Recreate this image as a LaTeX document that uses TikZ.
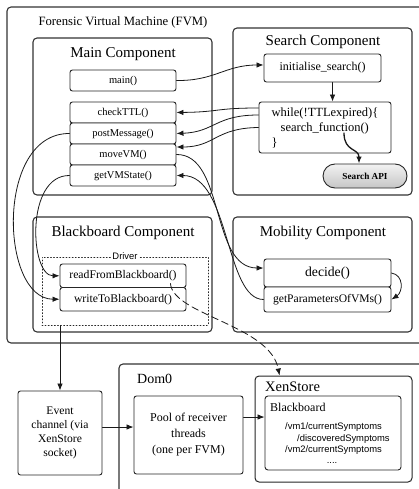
\documentclass[tikz,border=0pt]{standalone}
\usepackage{fontspec}
\setmainfont{Liberation Serif}
\setsansfont{Liberation Sans}
\usetikzlibrary{calc,arrows.meta}

\begin{document}
\begin{tikzpicture}[
  x=1pt, y=-1pt,
  line cap=round, line join=round,
  >={Latex[length=7pt,width=5.5pt]},
  frame/.style={draw=black!80, line width=1.1pt, rounded corners=4pt},
  fbox/.style={draw=black!85, line width=0.9pt, rounded corners=2.5pt, fill=white,
    inner sep=0pt, align=center, font=\fontsize{10.5}{12.5}\selectfont},
  ctitle/.style={anchor=base, inner sep=0pt, font=\fontsize{15}{18}\selectfont},
  link/.style={->, line width=0.8pt, black!90}
]
\useasboundingbox (0,0) rectangle (419,489);
\begin{scope}
\clip (0,0) rectangle (419,489);

% ---------------- Forensic Virtual Machine ----------------
\draw[frame] (7,7) rectangle (440,343);
\node[anchor=base, inner sep=0pt, font=\fontsize{12.7}{15}\selectfont] (fvmtitle) at (123,26)
  {Forensic Virtual Machine (FVM)};

% Main component
\draw[frame] (33,38) rectangle (212,195);
\node[ctitle] (maintitle) at (123,58) {Main Component};
\node[fbox, minimum width=106, minimum height=21] (mainf) at (123,80.5) {main()};
\node[fbox, minimum width=106, minimum height=21] (check) at (123,112.5) {checkTTL()};
\node[fbox, minimum width=106, minimum height=21] (post) at (123,133.5) {postMessage()};
\node[fbox, minimum width=106, minimum height=21] (move) at (123,154.5) {moveVM()};
\node[fbox, minimum width=106, minimum height=21] (getvm) at (123,175.5) {getVMState()};

% Search component
\draw[frame] (233,28) rectangle (412,195);
\node[ctitle] (searchtitle) at (323,46) {Search Component};
\node[fbox, minimum width=117, minimum height=28, font=\fontsize{12}{14}\selectfont]
  (init) at (322.5,68) {initialise\_search()};
\node[fbox, minimum width=132, minimum height=51, align=left, font=\fontsize{12.5}{15}\selectfont]
  (while) at (325,127.5) {while(!TTLexpired)\{\\\hspace*{9pt}search\_function()\\\}};
\node[draw=black!85, line width=0.9pt, rounded corners=12pt, top color=gray!10, bottom color=gray!45,
  minimum width=84, minimum height=24, inner sep=0pt, font=\bfseries\fontsize{9.2}{11}\selectfont]
  (api) at (365,176) {Search API};
\coordinate (sf) at (344,133);

% Blackboard component
\draw[frame] (33,217) rectangle (212,332);
\node[ctitle] (bbtitle) at (123,236) {Blackboard Component};
\node[draw=black!85, line width=0.9pt, dash pattern=on 0.9pt off 2.2pt, minimum width=166,
  minimum height=68, inner sep=0pt] (driver) at (125,291) {};
\node[fill=white, inner sep=1.5pt, font=\sffamily\fontsize{9.4}{11}\selectfont] (drivertitle)
  at (driver.north) {Driver};
\node[fbox, minimum width=126, minimum height=23.5, font=\fontsize{11.7}{14}\selectfont]
  (read) at (123,275.75) {readFromBlackboard()};
\node[fbox, minimum width=126, minimum height=23.5, font=\fontsize{11.7}{14}\selectfont]
  (write) at (123,299.25) {writeToBlackboard()};
\coordinate (wb) at ([xshift=-16pt,yshift=3.5pt]write.north east);

% Mobility component
\draw[frame] (233,217) rectangle (412,332);
\node[ctitle] (mobtitle) at (323,236) {Mobility Component};
\node[fbox, minimum width=127, minimum height=28, font=\fontsize{13.7}{16}\selectfont]
  (decide) at (327.5,273) {decide()};
\node[fbox, minimum width=127, minimum height=25, font=\fontsize{11.6}{14}\selectfont]
  (params) at (327.5,299.5) {getParametersOfVMs()};

% ---------------- Event channel and Dom0 ----------------
\node[fbox, minimum width=84, minimum height=84, font=\fontsize{11.6}{13.8}\selectfont]
  (event) at (60,433) {Event\\channel (via\\XenStore\\socket)};

\draw[frame] (119,364) rectangle (440,520);
\node[anchor=base west, inner sep=0pt, font=\fontsize{14}{17}\selectfont] (domtitle) at (137,383) {Dom0};
\node[fbox, minimum width=109, minimum height=78, font=\fontsize{12}{16}\selectfont]
  (pool) at (188.5,435) {Pool of receiver\\threads\\(one per FVM)};

\node[fbox, rounded corners=4pt, line width=1pt, minimum width=157, minimum height=106]
  (xs) at (333.5,429) {};
\node[anchor=base west, inner sep=0pt, font=\fontsize{14.5}{17}\selectfont] (xstitle) at (265,391) {XenStore};
\node[fbox, rounded corners=3pt, minimum width=136, minimum height=74] (bb) at (333,433) {};
\node[anchor=base west, inner sep=0pt, font=\fontsize{12}{14}\selectfont] (bbname) at (270,411) {Blackboard};
\node[anchor=base west, inner sep=0pt, font=\sffamily\fontsize{9.4}{11}\selectfont] (p1) at (285,429) {/vm1/currentSymptoms};
\node[anchor=base west, inner sep=0pt, font=\sffamily\fontsize{9.4}{11}\selectfont] (p2) at (297,441) {/discoveredSymptoms};
\node[anchor=base west, inner sep=0pt, font=\sffamily\fontsize{9.4}{11}\selectfont] (p3) at (285,452) {/vm2/currentSymptoms};
\node[anchor=base, inner sep=0pt, font=\sffamily\fontsize{9.4}{11}\selectfont] (p4) at (332,463) {....};

% ---------------- Connectors ----------------
\draw[link] (mainf.east) .. controls (215,81) and (225,65) .. ([yshift=3pt]init.west);
\draw[link] ([xshift=10pt]init.south) -- ([xshift=10pt]init.south |- while.north);
\draw[link, line width=1.3pt] (sf) .. controls (344,152) and (359,148) .. ([xshift=-6pt]api.north);

\draw[link] ([yshift=19.5pt]while.west) .. controls (215,108) and (220,112) .. (check.east);
\draw[link] ([yshift=12.5pt]while.west) .. controls (215,115) and (215,132) .. (post.east);
\draw[link] (while.west) .. controls (215,128) and (215,147) .. ([yshift=7.5pt]move.east);

\draw[link] (move.east) .. controls (225,154) and (210,268) .. ([yshift=5pt]decide.west);
\draw[link] (params.west) .. controls (225,299.5) and (230,175.5) .. (getvm.east);
\draw[link] (decide.east) .. controls (404,275) and (403,292) .. (params.east);

\draw[link] (post.west) .. controls (-5,133) and (0,299) .. (write.west);
\draw[link] (getvm.west) .. controls (25,175) and (30,276) .. (read.west);

\draw[link] (driver.south -| event.north) -- (event.north);
\draw[link] ([yshift=6pt]event.east) -- ([yshift=6pt]event.east -| pool.west);
\draw[link] ([yshift=18pt]pool.east) -- ([yshift=18pt]pool.east -| bb.west);

\draw[link, dash pattern=on 7pt off 4pt] (wb) .. controls (173,315) and (270,325) .. ([xshift=25pt]xs.north west);
\end{scope}
\end{tikzpicture}
\end{document}
